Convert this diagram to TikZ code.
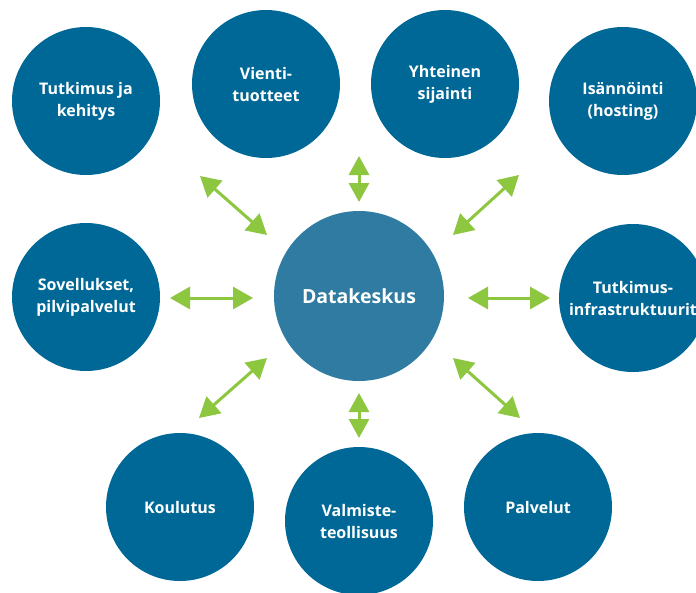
\documentclass[tikz,border=0pt]{standalone}
\usepackage{fontspec}
\setmainfont{Open Sans}
\usetikzlibrary{arrows.meta}
\definecolor{outerblue}{RGB}{0,104,150}
\definecolor{centerblue}{RGB}{47,123,161}
\definecolor{arrowgreen}{RGB}{141,198,63}
\tikzset{
  outercircle/.style={circle, fill=outerblue, draw=none, minimum size=148pt, inner sep=0pt,
    align=center, text=white, font=\fontsize{16}{22}\selectfont\bfseries},
  centercircle/.style={circle, fill=centerblue, draw=none, minimum size=170pt, inner sep=0pt,
    align=center, text=white, font=\fontsize{19.5}{24}\selectfont\bfseries},
  biarrow/.style={draw=arrowgreen, line width=3pt,
    {Triangle[width=22pt,length=20pt]}-{Triangle[width=22pt,length=20pt]}},
  biarrowshort/.style={draw=arrowgreen, line width=3pt,
    {Triangle[width=20pt,length=19pt]}-{Triangle[width=20pt,length=19pt]}}
}
\begin{document}
\begin{tikzpicture}[x=1pt,y=-1pt]
\useasboundingbox (0,0) rectangle (696,592);
\clip (0,0) rectangle (696,592);
\fill[white] (0,0) rectangle (696,592);
% nodes
\node[outercircle] (tk) at (86,101) {Tutkimus ja\\kehitys};
\node[outercircle] (vt) at (266,84) {Vienti-\\tuotteet};
\node[outercircle] (ys) at (445,84) {Yhteinen\\sijainti};
\node[outercircle] (ho) at (623,101) {Isännöinti\\(hosting)};
\node[outercircle] (sp) at (86,297) {Sovellukset,\\pilvipalvelut};
\node[centercircle] (dk) at (359,296) {Datakeskus};
\node[outercircle] (ti) at (633,298) {Tutkimus-\\infrastruktuurit};
\node[outercircle] (ko) at (180,507) {Koulutus};
\node[outercircle] (vm) at (359,521) {Valmiste-\\teollisuus};
\node[outercircle] (pa) at (538,507) {Palvelut};
% arrow end points
\coordinate (a1s) at (200,176); \coordinate (a1e) at (267,235);
\coordinate (a2s) at (359,156); \coordinate (a2e) at (359,202);
\coordinate (a3s) at (519,175); \coordinate (a3e) at (453,235);
\coordinate (a4s) at (170,298); \coordinate (a4e) at (253,298);
\coordinate (a5s) at (468,298); \coordinate (a5e) at (550,298);
\coordinate (a6s) at (267,358); \coordinate (a6e) at (199,418);
\coordinate (a7s) at (359,393); \coordinate (a7e) at (359,438);
\coordinate (a8s) at (453,358); \coordinate (a8e) at (520,418);
% arrows
\draw[biarrow] (a1s) -- (a1e);
\draw[biarrowshort] (a2s) -- (a2e);
\draw[biarrow] (a3s) -- (a3e);
\draw[biarrow] (a4s) -- (a4e);
\draw[biarrow] (a5s) -- (a5e);
\draw[biarrow] (a6s) -- (a6e);
\draw[biarrowshort] (a7s) -- (a7e);
\draw[biarrow] (a8s) -- (a8e);
\end{tikzpicture}
\end{document}
